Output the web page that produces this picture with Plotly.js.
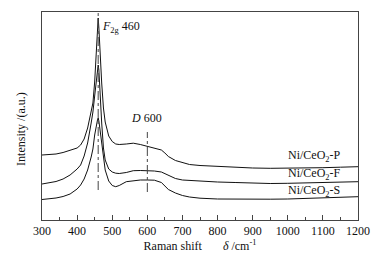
<!DOCTYPE html>
<html>
<head>
<meta charset="utf-8">
<script src="https://cdn.plot.ly/plotly-3.0.1.min.js"></script>
<style>html,body{margin:0;padding:0;background:#fff}#chart{width:378px;height:262px}</style>
</head>
<body>
<div id="chart"></div>
<script>
const shift = [300,320,340,360,380,400,410,420,430,440,445,450,455,458,460,462,465,470,475,480,490,500,510,520,540,560,580,600,620,640,650,660,680,700,720,750,800,850,900,950,1000,1050,1100,1150,1200];
const intensityP = [65,65.5,66,67.5,69.5,72,75,81,92,107,117,138,172,193,202,192,168,137,112,98,84,78.5,76,75.5,76,76.8,75.5,73.5,72,70,67,63.5,59.5,57.5,55.5,54.5,53.5,52.8,52,51.7,51.7,52,52.3,52.8,53.3];
const intensityF = [36,37,38.5,41,45,51,55,64,77,97,108,124,143,152,155,150,128,97,72,60,51,48,46.8,46.5,47.5,49.3,49.5,49.3,49,48,46.5,44.5,41.5,40,39.5,38.5,38,37.5,36.8,36.5,36.7,37,37.3,37.8,38.3];
const intensityS = [20.5,21,22,23.5,26,31,35,41,50,63,71,85,96,100,102,99,91,77,62,50,39,34.5,33.3,34.5,38.3,39.5,40,40,39.8,37.5,34,30.5,27,24.5,23,21.8,21,20.7,20.6,20.8,21,21.5,22.3,22.8,23.3];
const seriesNames = ['Ni/CeO<sub>2</sub>-P','Ni/CeO<sub>2</sub>-F','Ni/CeO<sub>2</sub>-S'];
const peakPositions = [460, 600];
const peakLabels = ['<i>F</i><sub>2g</sub> 460', '<i>D</i> 600'];

const font = 'Liberation Serif, Times New Roman, serif';
const lineStyle = {color:'#111', width:1};
const traces = [intensityP, intensityF, intensityS].map((y, i) => ({
  x: shift, y: y, type:'scatter', mode:'lines', line: lineStyle, name: seriesNames[i], showlegend:false
}));

const layout = {
  width:378, height:262,
  margin:{l:42, r:20, t:12, b:42},
  paper_bgcolor:'#fff', plot_bgcolor:'#fff',
  font:{family:font, size:12, color:'#111'},
  showlegend:false,
  xaxis:{
    range:[300,1200], dtick:100, tick0:300,
    ticks:'inside', ticklen:5, tickcolor:'#444',
    minor:{dtick:50, ticks:'inside', ticklen:3, tickcolor:'#444'},
    showline:true, linecolor:'#444', linewidth:1, mirror:true,
    showgrid:false, zeroline:false,
    tickfont:{family:font, size:12, color:'#111'},
    title:{text:'Raman shift &nbsp;&nbsp;&nbsp;&nbsp;&nbsp;&nbsp;<i>δ</i> /cm<sup>-1</sup>', font:{family:font, size:12, color:'#111'}, standoff:4}
  },
  yaxis:{
    range:[0,208], showticklabels:false, ticks:'',
    showline:true, linecolor:'#444', linewidth:1, mirror:true,
    showgrid:false, zeroline:false
  },
  shapes:[
    {type:'line', xref:'x', yref:'y', x0:peakPositions[0], x1:peakPositions[0], y0:30, y1:208, line:{color:'#444', width:1, dash:'dashdot'}},
    {type:'line', xref:'x', yref:'y', x0:peakPositions[1], x1:peakPositions[1], y0:28, y1:88, line:{color:'#444', width:1, dash:'dashdot'}}
  ],
  annotations:[
    {xref:'x', yref:'y', x:peakPositions[0]+4, y:193, text:peakLabels[0], showarrow:false, xanchor:'left', yanchor:'middle', font:{family:font, size:12, color:'#111'}},
    {xref:'x', yref:'y', x:peakPositions[1]-3, y:102, text:peakLabels[1], showarrow:false, xanchor:'center', yanchor:'middle', font:{family:font, size:12, color:'#111'}},
    {xref:'x', yref:'y', x:1075, y:64, text:seriesNames[0], showarrow:false, xanchor:'center', yanchor:'middle', font:{family:font, size:12, color:'#111'}},
    {xref:'x', yref:'y', x:1075, y:46, text:seriesNames[1], showarrow:false, xanchor:'center', yanchor:'middle', font:{family:font, size:12, color:'#111'}},
    {xref:'x', yref:'y', x:1075, y:29.5, text:seriesNames[2], showarrow:false, xanchor:'center', yanchor:'middle', font:{family:font, size:12, color:'#111'}},
    {xref:'paper', yref:'paper', x:-0.065, y:0.44, text:'Intensity /(a.u.)', textangle:-90, showarrow:false, xanchor:'center', yanchor:'middle', font:{family:font, size:12, color:'#111'}}
  ]
};
Plotly.newPlot('chart', traces, layout, {displayModeBar:false, staticPlot:true});
</script>
</body>
</html>
